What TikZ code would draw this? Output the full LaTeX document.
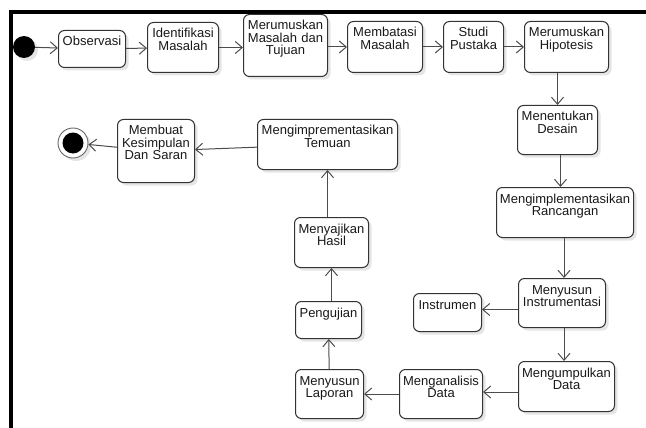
\documentclass[tikz,border=0pt]{standalone}
\usepackage{fontspec}
\setmainfont{Liberation Sans}
\usetikzlibrary{positioning,arrows.meta,calc,shapes,shadows}

\begin{document}
\begin{tikzpicture}[
  x=1pt, y=-1pt,
  font=\fontsize{13}{12.5}\selectfont,
  box/.style={draw=black!80, line width=1pt, rounded corners=6pt, align=center,
    inner xsep=2pt, inner ysep=0pt, text height=15.5pt, anchor=north west,
    text=black!90, fill=white,
    drop shadow={shadow xshift=3pt, shadow yshift=-3pt, fill=black!10, opacity=1}},
  arr/.style={draw=black!70, line width=1pt, -{Straight Barb[length=7pt,width=12pt]}}
]
\useasboundingbox (0,0) rectangle (646,428);
\draw[line width=3.5pt] (646,12) -- (11,12) -- (11,428);

% baris atas
\node[circle, fill=black, minimum size=22pt, inner sep=0pt,
  drop shadow={shadow xshift=3pt, shadow yshift=-3pt, fill=black!10, opacity=1}] (start) at (24,47) {};
\node[box, text width=63pt, text depth=21.5pt] (obs) at (58,30) {Observasi};
\node[box, text width=67pt, text depth=34.5pt] (idf) at (147,22) {Identifikasi\\Masalah};
\node[box, text width=80pt, text depth=46.5pt] (rmt) at (243,14) {Merumuskan\\Masalah dan\\Tujuan};
\node[box, text width=71pt, text depth=35.5pt] (bts) at (347,21) {Membatasi\\Masalah};
\node[box, text width=56pt, text depth=35.5pt] (pus) at (443,21) {Studi\\Pustaka};
\node[box, text width=80pt, text depth=35.5pt] (hip) at (524,21) {Merumuskan\\Hipotesis};
\draw[arr] (start) -- (obs);
\draw[arr] (obs) -- (idf);
\draw[arr] (idf) -- (rmt.west |- idf);
\draw[arr] (rmt.east |- bts) -- (bts);
\draw[arr] (bts) -- (pus);
\draw[arr] (pus) -- (hip);

% kolom kanan
\node[box, text width=76pt, text depth=33.5pt] (des) at (517,105) {Menentukan\\Desain};
\node[box, text width=133pt, text depth=34.5pt] (ran) at (496,187) {Mengimplementasikan\\Rancangan};
\node[box, text width=83pt, text depth=33.5pt] (insta) at (518,278) {Menyusun\\Instrumentasi};
\node[box, text width=64pt, text depth=22.5pt] (instr) at (413,293) {Instrumen};
\node[box, text width=92pt, text depth=34.5pt] (kum) at (518,361) {Mengumpulkan\\Data};
\draw[arr] (hip.south -| des) -- (des);
\draw[arr] ($(des.south)+(3,0)$) -- ($(des.south |- ran.north)+(3,0)$);
\draw[arr] ($(ran.south)+(-1,0)$) -- ($(ran.south |- insta.north)+(-1,0)$);
\draw[arr] ($(insta.west |- instr.east)+(0,-3)$) -- ($(instr.east)+(0,-3)$);
\draw[arr] ($(insta.south)+(2,0)$) -- ($(insta.south |- kum.north)+(2,0)$);

% baris bawah
\node[box, text width=79pt, text depth=33.5pt] (anl) at (399,369) {Menganalisis\\Data};
\node[box, text width=64pt, text depth=33.5pt] (lap) at (295,369) {Menyusun\\Laporan};
\node[box, text width=62pt, text depth=21.5pt] (uji) at (295,301) {Pengujian};
\node[box, text width=70pt, text depth=34.5pt] (saji) at (294,217) {Menyajikan\\Hasil};
\node[box, text width=136pt, text depth=34.5pt] (tem) at (257,119) {Mengimprementasikan\\Temuan};
\node[box, text width=73pt, text depth=47.5pt] (kes) at (117,119) {Membuat\\Kesimpulan\\Dan Saran};
\draw[arr] ($(kum.west |- anl)+(0,-2)$) -- ($(anl.east)+(0,-2)$);
\draw[arr] (anl) -- (lap);
\draw[arr] (lap) -- (uji);
\draw[arr] (uji.north -| saji) -- (saji);
\draw[arr] (saji.north -| tem) -- (tem);
\draw[arr] (tem) -- (kes);

% akhir
\node[circle, draw=black!60, line width=0.9pt, fill=white, minimum size=30pt, inner sep=0pt,
  drop shadow={shadow xshift=3pt, shadow yshift=-3pt, fill=black!10, opacity=1}] (end) at (73,143) {};
\node[circle, fill=black, minimum size=21pt, inner sep=0pt] (endin) at (end) {};
\draw[arr] (kes) -- (end);
\end{tikzpicture}
\end{document}
